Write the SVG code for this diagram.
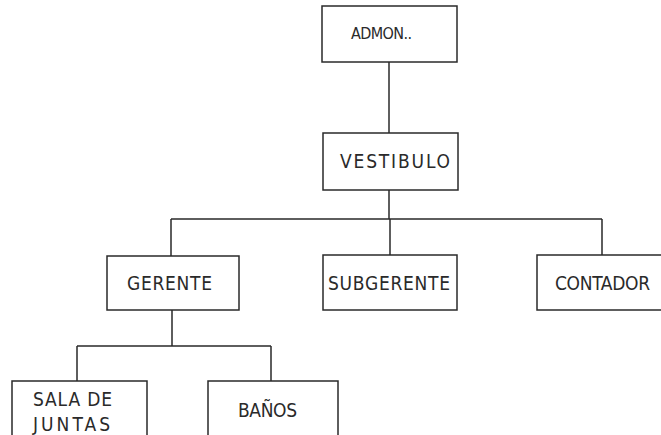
<svg xmlns="http://www.w3.org/2000/svg" width="661" height="435" viewBox="0 0 661 435">
<style>
.box{fill:none;stroke:#2a2a2a;stroke-width:1.5}
.ln{fill:none;stroke:#2a2a2a;stroke-width:1.5}
.t{font-family:"Liberation Sans Narrow","DejaVu Sans Condensed","Liberation Sans",sans-serif;font-size:19px;fill:#2a2a2a}
.s{font-size:16px}
</style>
<rect width="661" height="435" fill="#fff"/>
<g id="connectors">
<path class="ln" d="M389,62 V133"/>
<path class="ln" d="M389,190 V219 M171,219 H602 M171,219 V256 M390,219 V255 M602,219 V255"/>
<path class="ln" d="M172,310 V346 M77,346 H271 M77,346 V381 M271,346 V381"/>
</g>
<g id="admon">
<rect class="box" x="322" y="6" width="135" height="56"/>
<text class="t s" x="351" y="39" textLength="61" lengthAdjust="spacing">ADMON..</text>
</g>
<g id="vestibulo">
<rect class="box" x="323" y="133" width="135" height="57"/>
<text class="t" x="340" y="168" textLength="110" lengthAdjust="spacing">VESTIBULO</text>
</g>
<g id="gerente">
<rect class="box" x="107" y="256" width="132" height="54"/>
<text class="t" x="127" y="290" textLength="85" lengthAdjust="spacing">GERENTE</text>
</g>
<g id="subgerente">
<rect class="box" x="323" y="255" width="134" height="55"/>
<text class="t" x="328" y="290" textLength="122" lengthAdjust="spacing">SUBGERENTE</text>
</g>
<g id="contador">
<path class="box" d="M665,255 H537 V310 H665"/>
<text class="t" x="555" y="290" textLength="95" lengthAdjust="spacing">CONTADOR</text>
</g>
<g id="sala">
<path class="box" d="M12,440 V381 H147 V440"/>
<text class="t" x="33" y="406" textLength="79" lengthAdjust="spacing">SALA DE</text>
<text class="t" x="33" y="431" textLength="77" lengthAdjust="spacing">JUNTAS</text>
</g>
<g id="banos">
<path class="box" d="M208,440 V381 H338 V440"/>
<text class="t" x="238" y="417" textLength="59" lengthAdjust="spacing">BAÑOS</text>
</g>
</svg>
